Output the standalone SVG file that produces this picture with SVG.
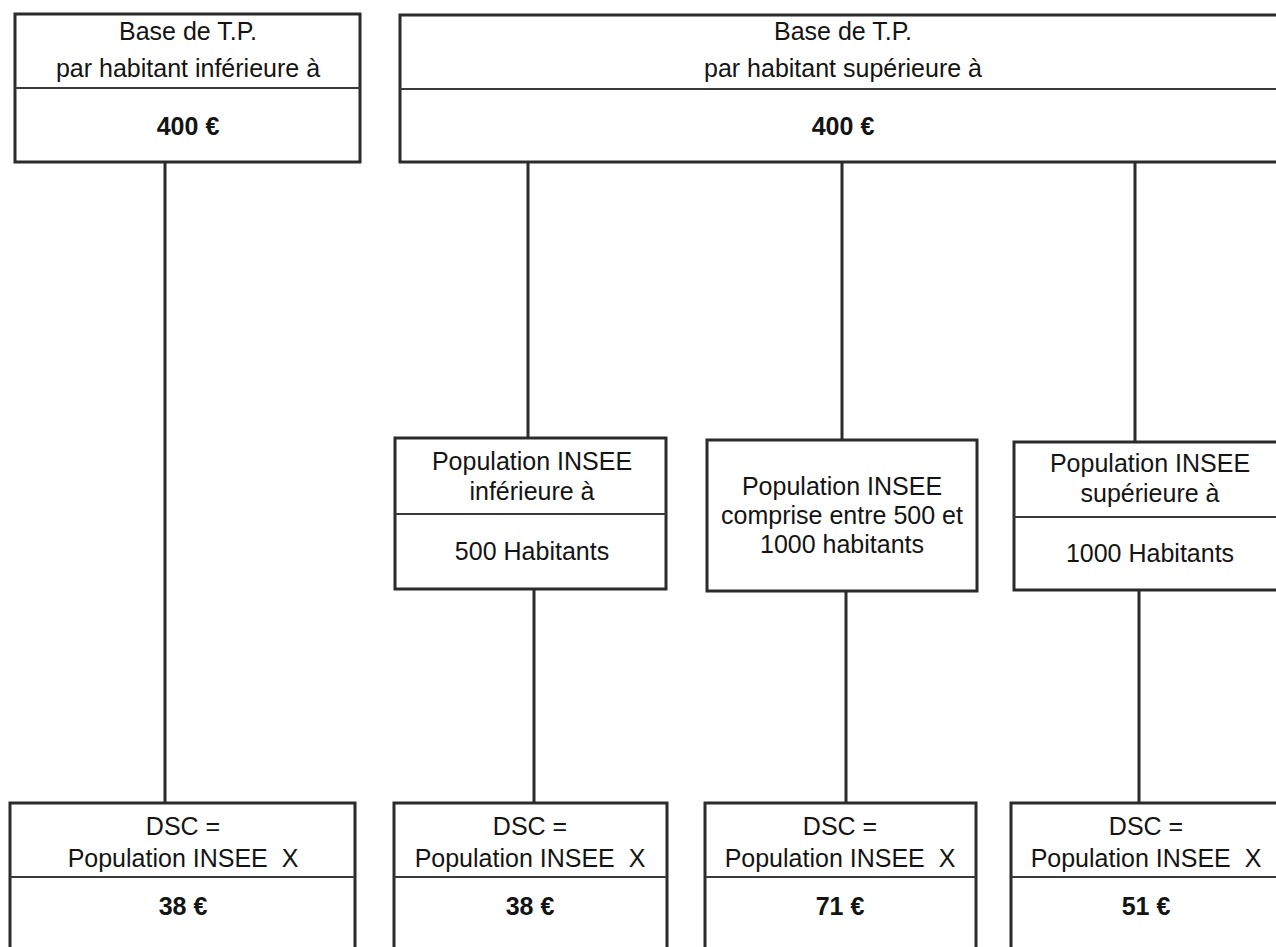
<svg xmlns="http://www.w3.org/2000/svg" width="1276" height="947" viewBox="0 0 1276 947">
<style>
.box{fill:#fff;stroke:#2b2b2b;stroke-width:3}
.div{stroke:#3a3a3a;stroke-width:2}
.con{stroke:#2b2b2b;stroke-width:3;fill:none}
text{font-family:"Liberation Sans",Arial,sans-serif;font-size:25px;fill:#141414;text-anchor:middle}
.b{font-weight:bold}
</style>
<rect width="1276" height="947" fill="#fff"/>
<g id="connectors">
<line class="con" x1="165" y1="162" x2="165" y2="803"/>
<line class="con" x1="528" y1="162" x2="528" y2="438"/>
<line class="con" x1="842" y1="162" x2="842" y2="440"/>
<line class="con" x1="1135" y1="162" x2="1135" y2="442"/>
<line class="con" x1="534" y1="589" x2="534" y2="803"/>
<line class="con" x1="846" y1="591" x2="846" y2="803"/>
<line class="con" x1="1139" y1="590" x2="1139" y2="803"/>
</g>
<g id="top-left">
<rect class="box" x="15" y="14" width="345" height="148"/>
<line class="div" x1="15" y1="88" x2="360" y2="88"/>
<text x="188" y="40">Base de T.P.</text>
<text x="188" y="77">par habitant inférieure à</text>
<text class="b" x="188" y="135">400 €</text>
</g>
<g id="top-right">
<rect class="box" x="400" y="15" width="900" height="147"/>
<line class="div" x1="400" y1="89" x2="1300" y2="89"/>
<text x="843" y="40">Base de T.P.</text>
<text x="843" y="77">par habitant supérieure à</text>
<text class="b" x="843" y="135">400 €</text>
</g>
<g id="mid-1">
<rect class="box" x="395" y="438" width="271" height="151"/>
<line class="div" x1="395" y1="514" x2="666" y2="514"/>
<text x="532" y="470">Population INSEE</text>
<text x="532" y="500">inférieure à</text>
<text x="532" y="560">500 Habitants</text>
</g>
<g id="mid-2">
<rect class="box" x="707" y="440" width="270" height="151"/>
<text x="842" y="495">Population INSEE</text>
<text x="842" y="524">comprise entre 500 et</text>
<text x="842" y="553">1000 habitants</text>
</g>
<g id="mid-3">
<rect class="box" x="1014" y="442" width="300" height="148"/>
<line class="div" x1="1014" y1="517" x2="1300" y2="517"/>
<text x="1150" y="472">Population INSEE</text>
<text x="1150" y="502">supérieure à</text>
<text x="1150" y="562">1000 Habitants</text>
</g>
<g id="bot-1">
<rect class="box" x="10" y="803" width="345" height="200"/>
<line class="div" x1="10" y1="877" x2="355" y2="877"/>
<text x="183" y="835">DSC =</text>
<text x="183" y="867" xml:space="preserve">Population INSEE  X</text>
<text class="b" x="183" y="915">38 €</text>
</g>
<g id="bot-2">
<rect class="box" x="394" y="803" width="273" height="200"/>
<line class="div" x1="394" y1="877" x2="667" y2="877"/>
<text x="530" y="835">DSC =</text>
<text x="530" y="867" xml:space="preserve">Population INSEE  X</text>
<text class="b" x="530" y="915">38 €</text>
</g>
<g id="bot-3">
<rect class="box" x="705" y="803" width="271" height="200"/>
<line class="div" x1="705" y1="877" x2="976" y2="877"/>
<text x="840" y="835">DSC =</text>
<text x="840" y="867" xml:space="preserve">Population INSEE  X</text>
<text class="b" x="840" y="915">71 €</text>
</g>
<g id="bot-4">
<rect class="box" x="1011" y="803" width="300" height="200"/>
<line class="div" x1="1011" y1="877" x2="1300" y2="877"/>
<text x="1146" y="835">DSC =</text>
<text x="1146" y="867" xml:space="preserve">Population INSEE  X</text>
<text class="b" x="1146" y="915">51 €</text>
</g>
</svg>
